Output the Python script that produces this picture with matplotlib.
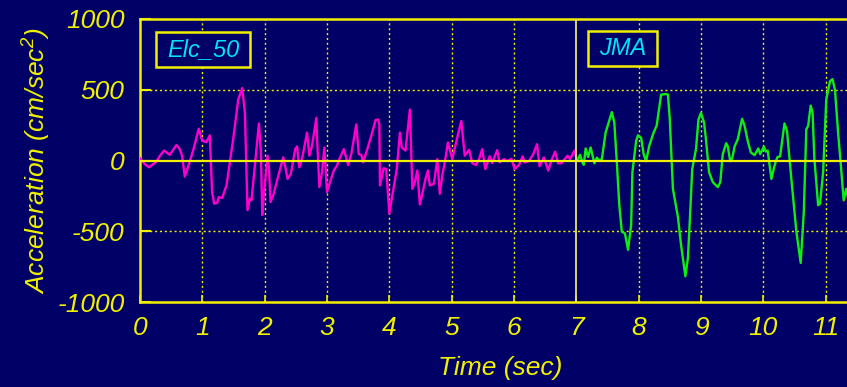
import matplotlib
matplotlib.use("Agg")
import matplotlib.pyplot as plt
from matplotlib.patches import Rectangle

# ---- data ----
elc_t = [0.0, 0.03, 0.075, 0.145, 0.21, 0.26, 0.315, 0.386, 0.477, 0.585, 0.638, 0.675,
         0.718, 0.77, 0.852, 0.943, 0.997, 1.066, 1.12, 1.157, 1.19, 1.238, 1.265, 1.318,
         1.388, 1.495, 1.576, 1.64, 1.683, 1.725, 1.763, 1.79, 1.908, 1.94, 1.961, 1.988,
         2.047, 2.068, 2.095, 2.138, 2.297, 2.33, 2.368, 2.42, 2.49, 2.52, 2.556, 2.6,
         2.68, 2.717, 2.76, 2.797, 2.83, 2.84, 2.878, 2.92, 2.958, 3.0, 3.04, 3.11, 3.16,
         3.2, 3.27, 3.34, 3.39, 3.47, 3.51, 3.55, 3.58, 3.655, 3.71, 3.78, 3.82, 3.84,
         3.85, 3.91, 3.95, 4.0, 4.04, 4.12, 4.17, 4.2, 4.26, 4.33, 4.37, 4.41, 4.45, 4.49,
         4.53, 4.58, 4.62, 4.65, 4.715, 4.77, 4.81, 4.85, 4.89, 4.94, 5.01, 5.09, 5.155,
         5.21, 5.28, 5.33, 5.39, 5.44, 5.49, 5.54, 5.61, 5.65, 5.73, 5.77, 5.84, 5.89,
         5.96, 6.01, 6.08, 6.14, 6.17, 6.24, 6.31, 6.37, 6.41, 6.48, 6.55, 6.6, 6.66,
         6.71, 6.76, 6.86, 6.9, 6.97, 7.0]
elc_a = [15, 0, -25, -48, -25, -10, 30, 70, 40, 110, 80, 35,
         -113, -48, 70, 225, 140, 130, 178, -223, -305, -300, -258, -265,
         -176, 150, 430, 512, 337, -351, -270, -280, 262, 57, -386, -235,
         34, -50, -293, -246, 22, -41, -130, -95, 80, 100, -48, 12,
         197, 34, 104, 209, 302, 162, -188, -83, 92, -223, -165, -71, -36,
         12, 80, -32, 45, 255, 45, 40, -13, 92, 174, 286, 290, 255,
         -176, -55, -60, -375, -270, -60, 197, 92, 70, 360, -200, -153, -71, -311,
         -235, -130, -71, -176, -165, 10, -235, -106, -13, 127, 10, 162, 279,
         34, 76, -18, -32, 10, 80, -60, 30, -18, 73, -13, 10, -5,
         12, -60, -32, 30, -13, -5, 45, 115, -41, 22, -71, 0, 62,
         -20, -20, 34, 10, 70, 22]

jma_t = [7.0, 7.02, 7.06, 7.1, 7.12, 7.15, 7.19, 7.23, 7.29, 7.33, 7.37, 7.41, 7.47,
         7.51, 7.57, 7.61, 7.65, 7.69, 7.73, 7.78, 7.83, 7.88, 7.9, 7.96, 7.99, 8.04,
         8.08, 8.12, 8.17, 8.24, 8.29, 8.36, 8.44, 8.47, 8.5, 8.55, 8.63, 8.68, 8.75,
         8.79, 8.82, 8.86, 8.92, 8.96, 9.0, 9.05, 9.08, 9.13, 9.19, 9.27, 9.31, 9.35,
         9.405, 9.43, 9.47, 9.5, 9.54, 9.59, 9.66, 9.7, 9.75, 9.8, 9.86, 9.92, 9.95,
         10.01, 10.04, 10.07, 10.13, 10.18, 10.225, 10.27, 10.34, 10.38, 10.45, 10.53,
         10.6, 10.65, 10.69, 10.72, 10.76, 10.79, 10.82, 10.88, 10.91, 10.96, 11.01,
         11.07, 11.11, 11.15, 11.2, 11.24, 11.29, 11.33, 11.37]
jma_a = [0, 0, 40, -15, -30, 85, 25, 92, -20, 20, 0, 10, 197,
         255, 342, 267, -13, -316, -503, -515, -631, -456, -83, 139, 178, 160,
         45, -5, 104, 197, 248, 465, 470, 465, 290, -200, -398, -596, -818,
         -690, -433, -60, 80, 290, 337, 267, 150, -83, -153, -188, -153, 45,
         122, 100, -5, 12, 100, 150, 295, 245, 139, 57, 38, 85, 45,
         99, 63, 70, -130, -36, 23, 30, 262, 210, -130, -500,
         -724, -363, 220, 245, 388, 340, 10, -316, -305, -83, 430,
         560, 575, 500, 197, -10, -282, -200, -290]

x_ticks = list(range(0, 12))
y_ticks = [-1000, -500, 0, 500, 1000]
y_tick_labels = ["-1000", "-500", "0", "500", "1000"]
label_elc = "Elc_50"
label_jma = "JMA"

# ---- style ----
BG = "#000066"
YEL = "#f0f000"
CYAN = "#00e4f4"
FONT = "Liberation Sans"
plt.rcParams["font.family"] = [FONT, "DejaVu Sans"]
plt.rcParams["font.style"] = "italic"
plt.rcParams["mathtext.fontset"] = "custom"
plt.rcParams["mathtext.rm"] = "Liberation Sans:italic"
plt.rcParams["mathtext.it"] = "Liberation Sans:italic"

W, H = 847, 387
L, B, T = 140, 302, 19
fig = plt.figure(figsize=(W / 100, H / 100), dpi=100, facecolor=BG)
ax = fig.add_axes([L / W, 1 - B / H, 1 - L / W + 0.002, (B - T) / H])
ax.set_facecolor(BG)
aw = W - L + 0.002 * W
ah = B - T

ax.set_xlim(0, 11.37)
ax.set_ylim(-1000, 1000)

# grid
for t in x_ticks[1:]:
    if t == 7:
        continue
    ax.axvline(t, color=YEL, lw=1.0, ls=(0, (1.5, 2.0)), zorder=1)
for v in (-500, 500):
    ax.axhline(v, color=YEL, lw=1.0, ls=(0, (1.5, 2.0)), zorder=1)

ax.plot(elc_t, elc_a, color="#ff00cc", lw=1.7, zorder=3)
ax.plot(jma_t, jma_a, color="#10ee10", lw=1.7, zorder=3)

ax.axhline(0, color=YEL, lw=1.6, zorder=4)
ax.axvline(7, color="#e8e070", lw=1.3, zorder=4)

for side in ("left", "bottom", "top"):
    ax.spines[side].set_color(YEL)
    ax.spines[side].set_linewidth(1.8)
ax.spines["right"].set_visible(False)

ax.set_xticks(x_ticks)
ax.set_xticklabels([str(t) for t in x_ticks], fontstyle="italic")
ax.set_yticks(y_ticks)
ax.set_yticklabels(y_tick_labels, fontstyle="italic")
ax.tick_params(axis="x", direction="in", length=5, width=1.2, color=YEL, pad=10,
               labelsize=19, labelcolor=YEL)
ax.tick_params(axis="y", direction="in", length=8, width=1.5, color=YEL, pad=11,
               labelsize=19, labelcolor=YEL)

ax.set_xlabel("Time (sec)", color=YEL, fontsize=19, fontstyle="italic")
ax.xaxis.set_label_coords((500 - L) / aw, -(356 - B) / ah)
ax.set_ylabel(r"Acceleration (cm/sec$^{2}$)", color=YEL, fontsize=19, fontstyle="italic")
ax.yaxis.set_label_coords(-(L - 53) / aw, 0.5)


def label_box(x0, x1, y0, y1, text):
    ax.add_patch(Rectangle(((x0 - L) / aw, (B - y1) / ah), (x1 - x0) / aw, (y1 - y0) / ah,
                           transform=ax.transAxes, facecolor=BG, edgecolor=YEL,
                           linewidth=1.8, zorder=5, clip_on=False))
    ax.text(((x0 + x1) / 2 - L) / aw, (B - (y0 + y1) / 2) / ah, text, transform=ax.transAxes,
            color=CYAN, fontsize=17, fontstyle="italic", ha="center", va="center", zorder=6)


label_box(156, 250, 32, 67, label_elc)
label_box(588, 657, 31, 66, label_jma)

fig.savefig("out.png", dpi=100, facecolor=BG)
